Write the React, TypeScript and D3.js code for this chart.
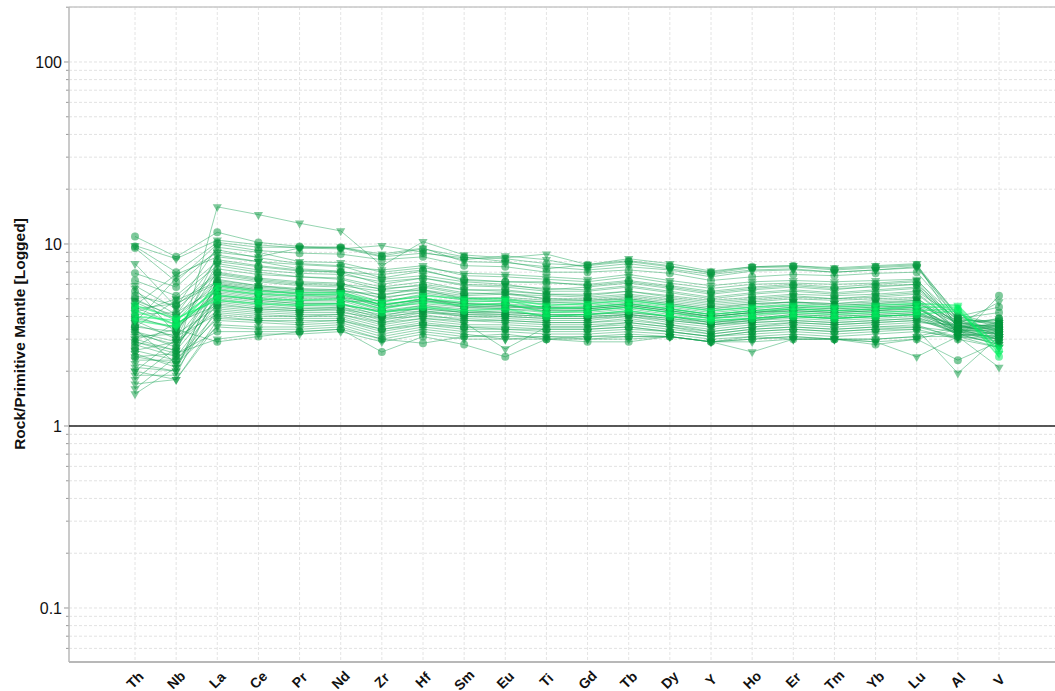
import React, { useRef, useEffect } from 'react';
import * as d3 from 'd3';

const elements = ['Th', 'Nb', 'La', 'Ce', 'Pr', 'Nd', 'Zr', 'Hf', 'Sm', 'Eu', 'Ti', 'Gd', 'Tb', 'Dy', 'Y', 'Ho', 'Er', 'Tm', 'Yb', 'Lu', 'Al', 'V'];

const majorTicks = [0.1, 1, 10, 100];

// normalised values per sample, same order as elements
const samples: number[][] = [
  [1.6, 2.4, 16.0, 14.5, 13.0, 11.8, 7.6, 10.3, 8.7, 8.4, 8.8, 7.7, 8.3, 7.8, 7.1, 7.5, 7.6, 7.4, 7.6, 7.8, 3.4, 3.0],
  [11.0, 8.5, 11.6, 10.2, 9.7, 9.6, 8.6, 9.4, 8.5, 8.0, 7.3, 7.7, 8.1, 7.6, 6.9, 7.4, 7.5, 7.2, 7.4, 7.6, 3.8, 3.3],
  [9.8, 8.3, 10.5, 9.9, 9.5, 9.4, 9.8, 9.0, 8.2, 8.6, 8.2, 7.4, 7.8, 7.3, 6.8, 7.2, 7.3, 7.0, 7.2, 7.5, 4.1, 3.6],
  [9.5, 6.2, 10.0, 9.2, 8.9, 8.8, 8.2, 8.5, 7.6, 7.5, 7.0, 7.0, 7.2, 6.9, 6.3, 6.6, 6.8, 6.7, 6.9, 7.0, 3.9, 4.2],
  [7.8, 4.5, 9.6, 9.0, 8.0, 7.9, 7.0, 7.4, 6.9, 6.8, 6.6, 6.4, 6.8, 6.3, 5.9, 6.2, 6.3, 6.2, 6.3, 6.4, 3.6, 3.2],
  [6.9, 5.8, 9.3, 8.4, 7.8, 7.6, 6.5, 7.1, 6.4, 6.2, 6.1, 6.0, 6.3, 5.9, 5.5, 5.8, 6.0, 5.8, 6.0, 6.2, 3.5, 3.9],
  [2.0, 3.0, 8.7, 8.0, 7.3, 7.1, 6.4, 6.7, 6.2, 6.0, 5.6, 5.8, 6.1, 5.7, 5.3, 5.6, 5.8, 5.6, 5.9, 6.0, 3.2, 2.8],
  [5.5, 4.1, 8.2, 7.6, 7.2, 7.0, 6.0, 6.5, 5.9, 5.8, 5.5, 5.5, 5.8, 5.4, 5.0, 5.3, 5.5, 5.3, 5.5, 5.7, 3.7, 3.5],
  [4.2, 5.0, 7.6, 7.0, 6.6, 6.5, 5.8, 6.2, 5.6, 5.5, 5.3, 5.2, 5.5, 5.1, 4.8, 5.0, 5.2, 5.0, 5.2, 5.4, 3.6, 3.1],
  [3.5, 3.3, 7.0, 6.5, 6.2, 6.1, 5.2, 5.8, 5.3, 5.4, 5.0, 5.0, 5.2, 4.9, 4.6, 4.8, 5.0, 4.9, 5.0, 5.1, 3.3, 3.4],
  [3.0, 2.6, 6.6, 6.2, 5.9, 5.8, 5.0, 5.5, 5.1, 5.0, 4.8, 4.8, 5.0, 4.7, 4.4, 4.6, 4.8, 4.7, 4.8, 4.9, 3.4, 3.0],
  [4.8, 3.8, 6.3, 5.9, 5.7, 5.6, 4.8, 5.3, 4.9, 4.8, 4.7, 4.6, 4.8, 4.5, 4.2, 4.4, 4.6, 4.5, 4.6, 4.7, 3.8, 3.7],
  [2.5, 2.1, 6.0, 5.6, 5.4, 5.4, 4.6, 5.0, 4.7, 4.6, 4.4, 4.4, 4.6, 4.3, 4.0, 4.2, 4.4, 4.3, 4.4, 4.6, 3.1, 2.9],
  [3.8, 3.0, 5.8, 5.4, 5.2, 5.1, 4.4, 4.9, 4.5, 4.4, 4.3, 4.3, 4.5, 4.2, 3.9, 4.1, 4.3, 4.2, 4.3, 4.4, 3.5, 3.3],
  [1.9, 1.9, 5.5, 5.1, 4.9, 4.9, 4.2, 4.6, 4.3, 4.2, 4.1, 4.1, 4.3, 4.0, 3.7, 3.9, 4.1, 4.0, 4.1, 4.2, 3.3, 3.6],
  [4.5, 3.6, 5.3, 4.9, 4.7, 4.7, 4.0, 4.5, 4.2, 4.1, 4.0, 4.0, 4.1, 3.9, 3.6, 3.8, 4.0, 3.9, 4.0, 4.1, 3.6, 3.2],
  [3.2, 2.8, 5.0, 4.7, 4.5, 4.5, 3.9, 4.3, 4.0, 3.9, 3.8, 3.8, 4.0, 3.7, 3.5, 3.7, 3.8, 3.7, 3.8, 3.9, 3.2, 3.0],
  [2.8, 2.4, 4.7, 4.4, 4.3, 4.3, 3.7, 4.1, 3.8, 3.8, 3.7, 3.7, 3.8, 3.6, 3.3, 3.5, 3.7, 3.6, 3.7, 3.8, 3.4, 3.5],
  [2.2, 2.0, 4.4, 4.2, 4.1, 4.1, 3.6, 3.9, 3.7, 2.65, 3.5, 3.5, 3.7, 3.5, 3.2, 3.4, 3.5, 3.4, 3.5, 3.6, 3.0, 2.7],
  [3.6, 3.1, 4.1, 3.9, 3.9, 3.9, 3.4, 3.7, 3.5, 3.4, 3.4, 3.4, 3.5, 3.3, 3.1, 3.3, 3.4, 3.3, 3.4, 3.5, 3.3, 3.1],
  [1.7, 1.8, 3.8, 3.7, 3.6, 3.7, 3.2, 3.5, 3.3, 3.3, 3.2, 3.2, 3.3, 3.2, 3.0, 3.1, 3.2, 3.1, 3.2, 3.3, 3.1, 2.1],
  [2.4, 2.2, 3.5, 3.4, 3.4, 3.5, 3.0, 3.3, 3.1, 3.1, 3.1, 3.0, 3.1, 3.1, 2.9, 3.0, 3.1, 3.0, 3.0, 3.1, 3.5, 3.4],
  [2.9, 2.5, 3.0, 3.2, 3.2, 3.3, 2.9, 3.2, 3.0, 3.0, 3.0, 3.0, 3.0, 3.1, 2.9, 2.9, 3.0, 3.0, 2.9, 3.0, 3.4, 3.7],
  [4.0, 3.4, 2.9, 3.1, 3.3, 3.4, 2.55, 3.1, 2.8, 2.4, 3.0, 2.9, 2.9, 3.1, 2.9, 3.1, 3.0, 3.0, 2.8, 3.0, 2.3, 2.9],
  [5.9, 4.4, 6.8, 6.3, 6.0, 5.9, 5.5, 5.6, 5.2, 5.3, 5.0, 4.9, 5.1, 4.8, 4.5, 4.7, 4.8, 4.7, 4.9, 5.0, 3.7, 3.3],
  [3.3, 2.7, 5.4, 5.0, 4.8, 4.8, 4.9, 5.1, 4.5, 4.5, 4.5, 4.4, 4.6, 4.3, 4.0, 4.2, 4.3, 4.2, 4.3, 4.4, 3.4, 3.2],
  [2.6, 2.9, 4.9, 4.6, 4.4, 4.4, 3.8, 4.2, 4.1, 4.0, 3.9, 3.9, 4.1, 3.8, 3.6, 3.8, 3.9, 3.8, 3.9, 4.0, 3.2, 3.1],
  [4.4, 4.7, 6.1, 5.7, 5.5, 5.5, 5.3, 5.6, 5.0, 5.1, 4.9, 4.9, 5.0, 4.7, 4.4, 4.7, 4.8, 4.6, 4.7, 4.9, 3.6, 3.5],
  [3.1, 3.2, 4.5, 4.3, 4.2, 4.2, 3.9, 4.0, 3.9, 3.8, 3.7, 3.7, 3.9, 3.6, 3.4, 3.6, 3.7, 3.6, 3.7, 3.8, 3.3, 2.9],
  [5.0, 3.9, 7.3, 6.8, 6.6, 6.4, 5.6, 6.0, 5.6, 5.6, 5.3, 5.3, 5.5, 5.2, 4.9, 5.1, 5.3, 5.2, 5.3, 5.5, 3.9, 3.6],
  [2.3, 2.3, 4.2, 4.0, 4.0, 4.0, 3.5, 3.8, 3.6, 3.6, 3.5, 3.5, 3.6, 3.4, 3.2, 3.4, 3.5, 3.4, 3.5, 3.5, 3.1, 3.3],
  [3.9, 3.5, 5.1, 4.8, 4.6, 4.6, 4.3, 4.4, 4.2, 4.2, 4.1, 4.1, 4.2, 4.0, 3.7, 3.9, 4.1, 4.0, 4.1, 4.2, 3.5, 3.4],
  [2.1, 2.0, 6.4, 5.9, 5.6, 5.5, 4.6, 5.0, 4.7, 4.6, 4.5, 4.5, 4.7, 4.4, 4.1, 4.3, 4.5, 4.4, 4.5, 4.6, 3.3, 3.0],
  [6.3, 5.2, 8.0, 7.5, 7.1, 7.0, 6.8, 7.2, 6.3, 6.2, 6.2, 5.9, 6.2, 5.8, 5.4, 5.7, 5.9, 5.7, 5.8, 6.0, 3.8, 3.8],
  [3.4, 2.2, 4.0, 3.8, 3.8, 3.8, 3.3, 3.6, 3.4, 3.4, 3.3, 3.3, 3.4, 3.3, 3.1, 3.2, 3.3, 3.2, 3.3, 3.4, 1.95, 3.1],
  [4.1, 4.2, 5.7, 5.3, 5.1, 5.1, 4.7, 4.9, 4.7, 4.7, 4.5, 4.5, 4.7, 4.4, 4.1, 4.3, 4.5, 4.4, 4.5, 4.6, 3.7, 3.4],
  [1.5, 2.1, 5.2, 4.9, 4.7, 4.7, 4.2, 4.4, 4.2, 4.3, 4.0, 4.1, 4.2, 4.0, 3.8, 3.9, 4.0, 3.9, 4.0, 4.1, 3.2, 2.8],
  [2.7, 3.7, 4.6, 4.4, 4.3, 4.4, 4.0, 4.2, 4.0, 4.0, 3.9, 3.9, 4.0, 3.8, 3.6, 3.7, 3.8, 3.7, 3.8, 3.9, 3.5, 3.6],
  [3.7, 6.5, 9.0, 8.5, 9.5, 9.6, 8.8, 9.5, 8.0, 7.9, 7.5, 7.2, 7.5, 7.2, 6.6, 7.1, 7.2, 7.0, 7.2, 7.4, 4.0, 3.5],
  [2.4, 2.5, 3.3, 3.3, 3.3, 3.4, 3.0, 2.85, 3.1, 3.2, 3.0, 3.1, 3.1, 3.1, 2.9, 3.0, 3.1, 3.0, 3.0, 3.1, 3.1, 3.0],
  [4.9, 4.0, 6.0, 5.6, 5.3, 5.3, 4.5, 4.7, 4.5, 4.6, 4.3, 4.3, 4.5, 4.2, 4.0, 4.2, 4.3, 4.2, 4.3, 4.5, 3.4, 3.2],
  [2.0, 1.8, 3.6, 3.5, 3.5, 3.6, 3.1, 3.4, 3.2, 3.0, 3.1, 3.1, 3.2, 3.1, 2.9, 2.55, 3.0, 3.0, 2.9, 2.4, 3.1, 2.7],
  [5.2, 4.6, 6.9, 6.4, 6.1, 6.0, 5.7, 5.9, 5.4, 5.3, 5.2, 5.1, 5.3, 5.0, 4.7, 4.9, 5.1, 5.0, 5.1, 5.3, 3.6, 3.9],
  [3.0, 3.4, 5.6, 5.2, 5.0, 5.0, 4.3, 4.6, 4.4, 4.4, 4.2, 4.2, 4.4, 4.1, 3.9, 4.0, 4.2, 4.1, 4.2, 4.3, 3.3, 3.2],
  [2.9, 2.6, 4.8, 4.5, 4.4, 4.5, 4.1, 4.3, 4.1, 4.1, 4.0, 4.0, 4.1, 3.9, 3.7, 3.8, 4.0, 3.9, 4.0, 4.1, 3.4, 3.3],
  [4.6, 6.8, 8.5, 8.0, 7.7, 7.5, 7.2, 7.6, 6.7, 6.6, 6.4, 6.2, 6.6, 6.1, 5.7, 6.0, 6.1, 6.0, 6.1, 6.3, 3.9, 3.7],
  [3.5, 4.9, 6.2, 5.8, 5.6, 5.6, 5.1, 5.4, 5.0, 4.9, 4.8, 4.7, 4.9, 4.6, 4.3, 4.5, 4.7, 4.6, 4.7, 4.8, 3.5, 3.6],
  [5.7, 3.2, 7.8, 7.2, 6.9, 6.8, 6.2, 6.5, 6.0, 5.9, 5.7, 5.6, 5.9, 5.5, 5.1, 5.4, 5.6, 5.4, 5.6, 5.8, 3.8, 3.4],
  [9.7, 7.0, 10.2, 9.6, 9.6, 9.5, 8.5, 8.9, 8.4, 8.3, 7.8, 7.6, 8.0, 7.5, 7.0, 7.5, 7.6, 7.3, 7.5, 7.7, 4.0, 4.5],
  [1.8, 2.7, 5.9, 5.5, 5.3, 5.2, 4.5, 4.9, 4.6, 4.5, 4.4, 4.4, 4.6, 4.3, 4.0, 4.2, 4.4, 4.3, 4.4, 4.5, 3.2, 3.1],
  [2.6, 2.3, 3.9, 3.8, 3.7, 3.8, 3.4, 3.6, 3.5, 3.5, 3.4, 3.4, 3.5, 3.3, 3.1, 3.3, 3.4, 3.3, 3.4, 3.4, 3.0, 5.2],
  [3.3, 2.9, 4.3, 4.1, 4.0, 4.1, 3.7, 3.9, 3.8, 3.7, 3.6, 3.6, 3.7, 3.5, 3.3, 3.5, 3.6, 3.5, 3.6, 3.7, 3.6, 4.8],
];

const sampleShapes = 'TCTCTCTCTCTCTCTCTCTCTTTCTCTCTCTCTCTCTCTCTTCTCTCTCTCT'.split('');

// brighter samples drawn on top
const brightSamples: number[][] = [
  [4.0, 3.8, 5.6, 5.3, 5.2, 5.3, 4.6, 5.0, 4.8, 4.9, 4.4, 4.5, 4.7, 4.4, 4.1, 4.3, 4.4, 4.3, 4.4, 4.5, 4.5, 2.5],
  [4.3, 3.6, 5.2, 5.0, 4.9, 5.0, 4.4, 4.8, 4.6, 4.7, 4.2, 4.3, 4.5, 4.2, 3.9, 4.1, 4.2, 4.1, 4.2, 4.3, 4.4, 2.4],
  [3.8, 3.5, 5.9, 5.5, 5.4, 5.4, 4.8, 5.2, 5.0, 5.0, 4.6, 4.7, 4.9, 4.6, 4.3, 4.5, 4.6, 4.5, 4.6, 4.7, 4.6, 2.7],
  [4.6, 3.9, 4.9, 4.7, 4.6, 4.7, 4.2, 4.5, 4.3, 4.4, 4.0, 4.1, 4.3, 4.0, 3.8, 3.9, 4.0, 3.9, 4.0, 4.1, 4.3, 2.6],
];

const width = 1055;
const height = 691;
const left = 69, top = 7, bottom = 662;

const x = d3.scalePoint().domain(elements).range([135, 999]);
const y = d3.scaleLog().domain([0.0505, 200.5]).range([bottom, top]);

const App = () => {
  const plotRef = useRef<SVGGElement>(null);

  useEffect(() => {
    const svg = d3.select(plotRef.current);
    svg.selectAll('*').remove();

    // grid lines
    const minor: number[] = [];
    for (let e = -2; e <= 2; e++) {
      for (let m = 1; m < 10; m++) {
        const v = m * Math.pow(10, e);
        if (v >= 0.0505 && v <= 200.5) minor.push(v);
      }
    }
    svg.append('g').selectAll('line').data(minor).enter().append('line')
      .attr('x1', left).attr('x2', width)
      .attr('y1', d => y(d)).attr('y2', d => y(d))
      .attr('stroke', '#e2e2e2').attr('stroke-dasharray', '3,2');

    svg.append('g').selectAll('line').data(elements).enter().append('line')
      .attr('x1', d => x(d)!).attr('x2', d => x(d)!)
      .attr('y1', top).attr('y2', bottom)
      .attr('stroke', '#e4e4e4').attr('stroke-dasharray', '3,2');

    // axis ticks
    svg.append('g').selectAll('line').data(minor).enter().append('line')
      .attr('x1', d => majorTicks.includes(d) ? left - 5 : left - 3).attr('x2', left)
      .attr('y1', d => y(d)).attr('y2', d => y(d))
      .attr('stroke', '#999');

    svg.append('g').selectAll('text').data(majorTicks).enter().append('text')
      .attr('x', left - 7).attr('y', d => y(d) + 6)
      .attr('text-anchor', 'end')
      .style('font-family', 'Liberation Sans, Arial, sans-serif')
      .style('font-size', '16px')
      .attr('fill', '#111')
      .text(d => String(d));

    // frame
    svg.append('line').attr('x1', left).attr('x2', width).attr('y1', top).attr('y2', top)
      .attr('stroke', '#c8c8c8').attr('stroke-width', 1.5);
    svg.append('line').attr('x1', left).attr('x2', left).attr('y1', top).attr('y2', bottom)
      .attr('stroke', '#b8b8b8').attr('stroke-width', 1.5);
    svg.append('line').attr('x1', left).attr('x2', width).attr('y1', bottom).attr('y2', bottom)
      .attr('stroke', '#b8b8b8').attr('stroke-width', 2);

    // reference line at 1
    svg.append('line').attr('x1', left).attr('x2', width).attr('y1', y(1)).attr('y2', y(1))
      .attr('stroke', '#222').attr('stroke-width', 1.5);

    const line = d3.line<number>()
      .x((_, i) => x(elements[i])!)
      .y(d => y(d));

    const circle = d3.symbol().type(d3.symbolCircle).size(50)();
    const tri = d3.symbol().type(d3.symbolTriangle).size(36)();

    const drawSample = (vals: number[], shape: string, lineCol: string, lineOp: number, lw: number, markCol: string, markOp: number) => {
      const g = svg.append('g');
      g.append('path').attr('d', line(vals))
        .attr('fill', 'none').attr('stroke', lineCol)
        .attr('stroke-opacity', lineOp).attr('stroke-width', lw);
      g.selectAll('path.m').data(vals).enter().append('path')
        .attr('class', 'm')
        .attr('d', shape === 'C' ? circle : tri)
        .attr('transform', (d, i) => `translate(${x(elements[i])},${y(d)})` + (shape === 'C' ? '' : ' rotate(180)'))
        .attr('fill', markCol).attr('fill-opacity', markOp);
    };

    samples.forEach((s, i) => drawSample(s, sampleShapes[i] || 'T', '#12a050', 0.45, 1, '#00953a', 0.5));
    brightSamples.forEach((s, i) => drawSample(s, i % 2 ? 'C' : 'T', '#00f060', 0.55, 1.6, '#00ee5e', 0.55));
  }, []);

  const labelFont = { fontFamily: 'Liberation Sans, Arial, sans-serif', fontWeight: 'bold' as const };

  return (
    <svg width={width} height={height} style={{ position: 'absolute', left: 0, top: 0, background: '#fff' }}>
      <defs>
        {elements.map(el => (
          <path key={el} id={`lbl-${el}`} d={`M${x(el)! - 16},${696} L${x(el)! + 16},${664}`} />
        ))}
      </defs>
      <g ref={plotRef}></g>
      {elements.map(el => (
        <text key={el} textAnchor="middle" dy="0.35em" fontSize={14} fill="#111" style={labelFont}>
          <textPath href={`#lbl-${el}`} startOffset="50%">{el}</textPath>
        </text>
      ))}
      <g transform="translate(25, 334)">
        <text transform="rotate(-90)" textAnchor="middle" fontSize={15.5} fill="#111" style={labelFont}>
          Rock/Primitive Mantle [Logged]
        </text>
      </g>
    </svg>
  );
};

export default App;
